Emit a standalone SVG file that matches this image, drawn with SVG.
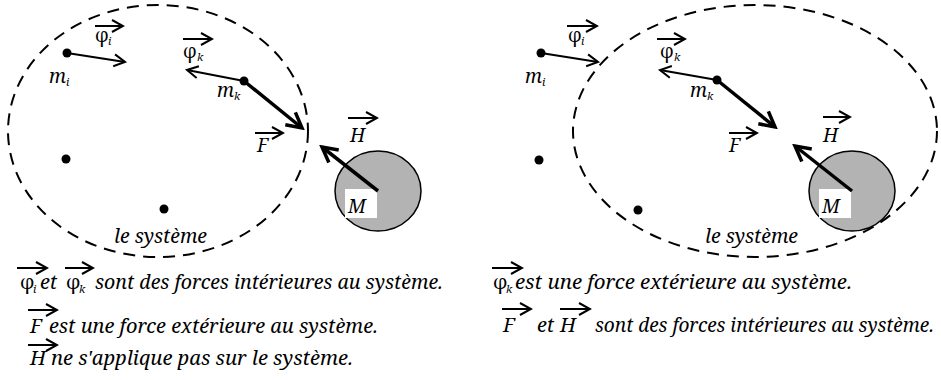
<svg xmlns="http://www.w3.org/2000/svg" width="941" height="380" viewBox="0 0 941 380">
<style>
text{font-family:'Noto Serif','DejaVu Serif',serif;font-style:italic;font-size:19px;fill:#000}
.cap{font-size:20px}
.g{font-style:normal}
.sub{font-size:11px}
.sys{fill:none;stroke:#000;stroke-width:2;stroke-dasharray:12 8}
.dot{fill:#000}
.thin{stroke:#000;stroke-width:2;fill:none;marker-end:url(#ah)}
.thick{stroke:#000;stroke-width:3.5;fill:none;marker-end:url(#ahb)}
.vec{stroke:#000;stroke-width:2;fill:none;marker-end:url(#ah)}
.body{fill:#b3b3b3;stroke:#000;stroke-width:1.5}
</style>
<defs>
<marker id="ah" viewBox="-13 -8 15 16" markerWidth="15" markerHeight="16" refX="0" refY="0" orient="auto" markerUnits="userSpaceOnUse">
<path d="M-11,-6 L0,0 L-11,6" fill="none" stroke="#000" stroke-width="2"/>
</marker>
<marker id="ahb" viewBox="-18 -11 21 22" markerWidth="21" markerHeight="22" refX="0" refY="0" orient="auto" markerUnits="userSpaceOnUse">
<path d="M-15,-8 L0,0 L-15,8" fill="none" stroke="#000" stroke-width="3.5"/>
</marker>
</defs>

<g id="left-system">
<ellipse class="sys" cx="158" cy="131" rx="150" ry="126"/>
<text x="114" y="243" textLength="93" lengthAdjust="spacingAndGlyphs">le système</text>
</g>
<g id="left-mi">
<circle class="dot" cx="67" cy="53" r="4.5"/>
<text x="49" y="83">m</text><text class="sub" x="66" y="86">i</text>
</g>
<g id="left-mk">
<circle class="dot" cx="244" cy="81" r="4.5"/>
<text x="217" y="97">m</text><text class="sub" x="234" y="100">k</text>
</g>
<g id="left-p3"><circle class="dot" cx="66" cy="159" r="4.5"/></g>
<g id="left-p4"><circle class="dot" cx="164" cy="209" r="4.5"/></g>
<g id="left-M">
<ellipse class="body" cx="378" cy="191" rx="43" ry="40"/>
<rect x="345" y="189" width="32" height="29" fill="#fff"/>
<text x="348" y="213">M</text>
</g>
<g id="left-labels">
<text class="g" x="95" y="42">φ</text><text class="sub" x="108" y="45">i</text>
<text class="g" x="183" y="58">φ</text><text class="sub" x="197" y="61">k</text>
<text x="257" y="152">F</text>
<text x="350" y="142">H</text>
</g>
<g id="left-connectors">
<line class="thin" x1="67" y1="53" x2="125" y2="62"/>
<line class="thin" x1="244" y1="81" x2="187" y2="70"/>
<line class="thick" x1="244" y1="81" x2="302" y2="128"/>
<line class="thick" x1="378" y1="191" x2="322" y2="147"/>
<line class="vec" x1="95" y1="26" x2="123" y2="26"/>
<line class="vec" x1="183" y1="39" x2="212" y2="39"/>
<line class="vec" x1="255" y1="133" x2="283" y2="133"/>
<line class="vec" x1="348" y1="118" x2="377" y2="118"/>
</g>

<g id="left-caption">
<text class="g cap" x="20" y="289">φ</text><text class="sub" x="33" y="293">i</text>
<text class="cap" x="40" y="289">et</text>
<text class="g cap" x="66" y="289">φ</text><text class="sub" x="79" y="293">k</text>
<text class="cap" x="95" y="289" textLength="348" lengthAdjust="spacingAndGlyphs">sont des forces intérieures au système.</text>
<text class="cap" x="30" y="333">F</text>
<text class="cap" x="49" y="333" textLength="329" lengthAdjust="spacingAndGlyphs">est une force extérieure au système.</text>
<text class="cap" x="30" y="365">H</text>
<text class="cap" x="51" y="365" textLength="302" lengthAdjust="spacingAndGlyphs">ne s'applique pas sur le système.</text>
<line class="vec" x1="17" y1="268" x2="47" y2="268"/>
<line class="vec" x1="65" y1="268" x2="93" y2="268"/>
<line class="vec" x1="28" y1="310" x2="57" y2="310"/>
<line class="vec" x1="28" y1="345" x2="57" y2="345"/>
</g>

<g id="right-system">
<ellipse class="sys" cx="755" cy="131" rx="182" ry="126"/>
<text x="705" y="243" textLength="93" lengthAdjust="spacingAndGlyphs">le système</text>
</g>
<g id="right-mi">
<circle class="dot" cx="541" cy="53" r="4.5"/>
<text x="525" y="83">m</text><text class="sub" x="542" y="86">i</text>
</g>
<g id="right-mk">
<circle class="dot" cx="717" cy="80" r="4.5"/>
<text x="690" y="97">m</text><text class="sub" x="707" y="100">k</text>
</g>
<g id="right-p3"><circle class="dot" cx="539" cy="160" r="4.5"/></g>
<g id="right-p4"><circle class="dot" cx="638" cy="210" r="4.5"/></g>
<g id="right-M">
<ellipse class="body" cx="852" cy="191" rx="43" ry="40"/>
<rect x="819" y="189" width="32" height="29" fill="#fff"/>
<text x="822" y="213">M</text>
</g>
<g id="right-labels">
<text class="g" x="568" y="42">φ</text><text class="sub" x="581" y="45">i</text>
<text class="g" x="660" y="58">φ</text><text class="sub" x="674" y="61">k</text>
<text x="729" y="152">F</text>
<text x="823" y="142">H</text>
</g>
<g id="right-connectors">
<line class="thin" x1="541" y1="53" x2="598" y2="62"/>
<line class="thin" x1="717" y1="80" x2="660" y2="70"/>
<line class="thick" x1="717" y1="80" x2="775" y2="127"/>
<line class="thick" x1="852" y1="191" x2="795" y2="146"/>
<line class="vec" x1="567" y1="26" x2="597" y2="26"/>
<line class="vec" x1="657" y1="39" x2="685" y2="39"/>
<line class="vec" x1="729" y1="133" x2="757" y2="133"/>
<line class="vec" x1="823" y1="117" x2="850" y2="117"/>
</g>

<g id="right-caption">
<text class="g cap" x="493" y="289">φ</text><text class="sub" x="506" y="293">k</text>
<text class="cap" x="515" y="289" textLength="337" lengthAdjust="spacingAndGlyphs">est une force extérieure au système.</text>
<text class="cap" x="503" y="332">F</text>
<text class="cap" x="537" y="332">et</text>
<text class="cap" x="560" y="332">H</text>
<text class="cap" x="595" y="332" textLength="339" lengthAdjust="spacingAndGlyphs">sont des forces intérieures au système.</text>
<line class="vec" x1="492" y1="268" x2="522" y2="268"/>
<line class="vec" x1="502" y1="309" x2="531" y2="309"/>
<line class="vec" x1="560" y1="309" x2="590" y2="309"/>
</g>
</svg>
